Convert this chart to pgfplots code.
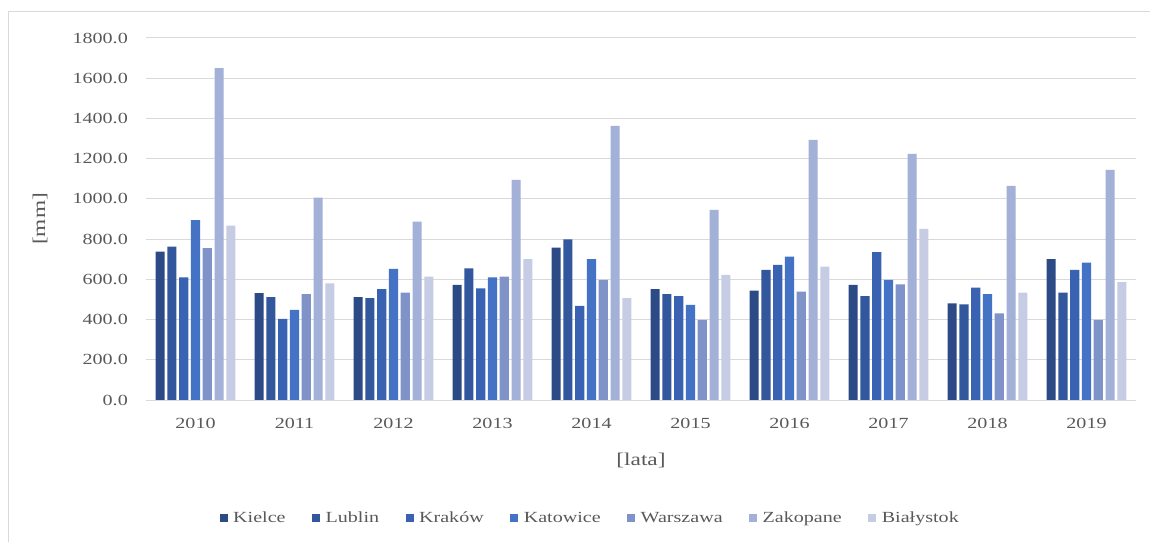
\documentclass[border=0pt]{standalone}
\usepackage{fontspec}
\setmainfont{Liberation Serif}[FakeStretch=1.3]
\usepackage{pgfplots}
\usepackage{pgfplotstable}
\pgfplotsset{compat=1.18}

\definecolor{cKi}{HTML}{2C4A86}
\definecolor{cLu}{HTML}{32579C}
\definecolor{cKr}{HTML}{3A62B2}
\definecolor{cKa}{HTML}{4472C4}
\definecolor{cWa}{HTML}{7F93C8}
\definecolor{cZa}{HTML}{A3B0D7}
\definecolor{cBi}{HTML}{C6CCE4}
\definecolor{txt}{HTML}{595959}
\definecolor{grid}{HTML}{D9D9D9}

% opady roczne [mm]
\pgfplotstableread{
x  Ki   Lu   Kr   Ka   Wa   Za    Bi
0  738  763  610  895  755  1650  867
1  531  511  403  448  526  1006  580
2  511  506  551  652  534  887   613
3  572  655  555  610  613  1094  701
4  758  799  468  701  597  1363  506
5  551  527  517  473  398  945   622
6  544  647  672  713  539  1294  663
7  572  517  735  597  575  1224  851
8  481  476  559  526  431  1065  534
9  701  534  647  683  398  1144  586
}\opady

\begin{document}
\begin{tikzpicture}
\useasboundingbox (0,0) rectangle (1150bp,542bp);
\fill[white] (0,0) rectangle (1150bp,542bp);
\draw[grid, line width=1bp] (8bp,-10bp) -- (8bp,530bp) -- (1160bp,530bp);
\begin{axis}[
  at={(146bp,142bp)}, anchor=south west,
  scale only axis,
  width=990bp, height=362bp,
  xmin=-0.5, xmax=9.5,
  ymin=0, ymax=1800,
  ytick distance=200,
  xtick={0,...,9},
  xticklabels={2010,2011,2012,2013,2014,2015,2016,2017,2018,2019},
  major tick length=0pt,
  axis x line*=bottom,
  axis y line*=left,
  x axis line style={draw=grid, line width=1bp, -},
  y axis line style={draw=none},
  ymajorgrids,
  grid style={draw=grid, line width=1bp},
  /pgf/number format/.cd, fixed, fixed zerofill, precision=1, 1000 sep={}, assume math mode=true,
  /pgfplots/.cd,
  tick label style={font=\fontsize{15.5}{18}\selectfont, text=txt, inner sep=0pt},
  yticklabel style={anchor=east, xshift=-18bp},
  xticklabel style={anchor=north, yshift=-18bp},
  xlabel={[lata]}, ylabel={[mm]},
  every axis x label/.style={at={(axis description cs:0.5,-0.166)}, anchor=center,
    font=\fontsize{18}{21}\selectfont, text=txt},
  every axis y label/.style={at={(axis description cs:-0.107,0.5)}, anchor=center, rotate=90,
    font=\fontsize{18}{21}\selectfont, text=txt},
  ybar, bar width=0.092,
  every axis plot/.append style={draw=none},
  legend columns=7,
  legend style={at={(axis description cs:0.4485,-0.326)}, anchor=center,
    draw=none, fill=none, font=\fontsize{15.5}{19}\selectfont, text=txt,
    /tikz/every odd column/.append style={column sep=4bp},
    /tikz/every even column/.append style={column sep=25bp},
    nodes={inner sep=1.5bp}},
  legend image code/.code={\fill[#1] (0bp,-4bp) rectangle (8bp,4bp);},
]
\addplot[fill=cKi, bar shift=-0.357] table[x=x,y=Ki] {\opady};
\addplot[fill=cLu, bar shift=-0.238] table[x=x,y=Lu] {\opady};
\addplot[fill=cKr, bar shift=-0.119] table[x=x,y=Kr] {\opady};
\addplot[fill=cKa, bar shift=0] table[x=x,y=Ka] {\opady};
\addplot[fill=cWa, bar shift=0.119] table[x=x,y=Wa] {\opady};
\addplot[fill=cZa, bar shift=0.238] table[x=x,y=Za] {\opady};
\addplot[fill=cBi, bar shift=0.357] table[x=x,y=Bi] {\opady};
\legend{Kielce,Lublin,Kraków,Katowice,Warszawa,Zakopane,Białystok}
\end{axis}
\end{tikzpicture}
\end{document}
